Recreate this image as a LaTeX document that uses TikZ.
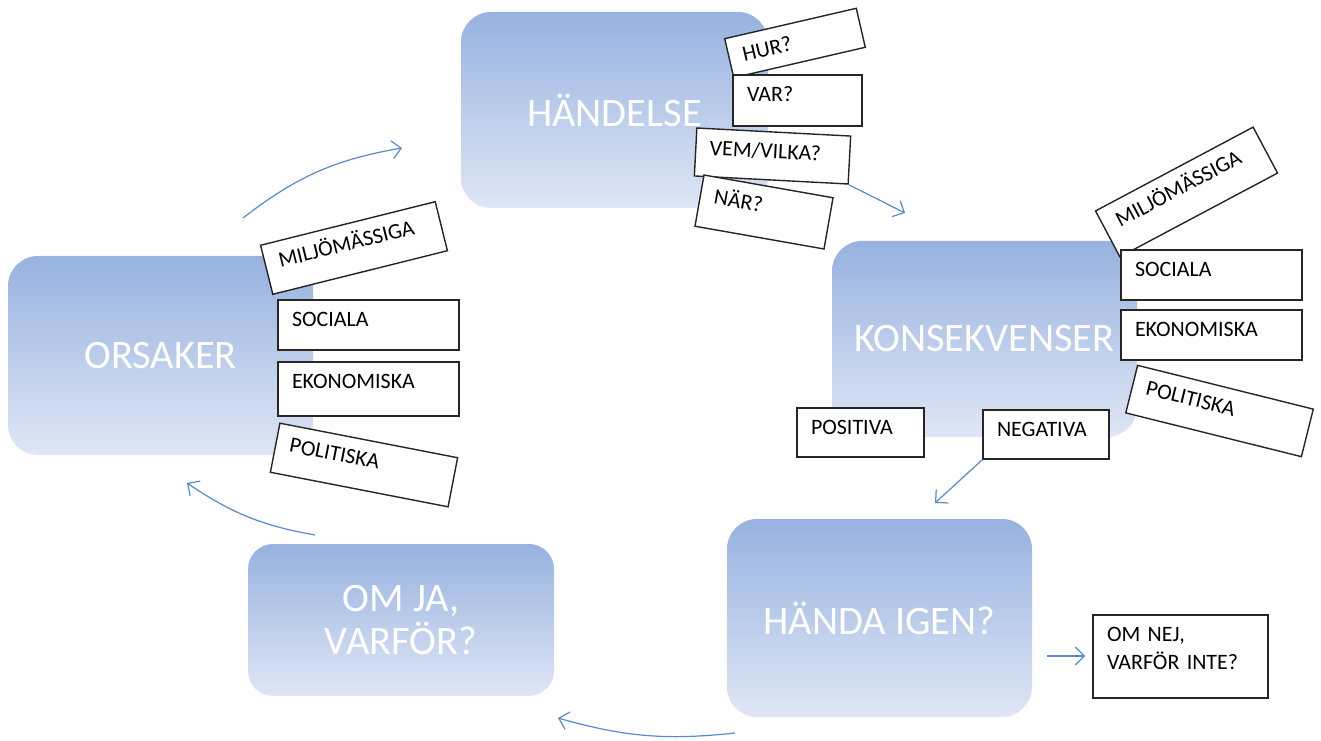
\documentclass[tikz,border=0pt]{standalone}
\usepackage{fontspec}
\setmainfont{Carlito}
\usetikzlibrary{arrows.meta}
\definecolor{boxtop}{RGB}{151,178,224}
\definecolor{boxbot}{RGB}{223,230,245}
\definecolor{cycblue}{RGB}{90,140,205}
\tikzset{
  bigbox/.style={rounded corners=0.6cm, top color=boxtop, bottom color=boxbot, text=white,
    font=\fontsize{23}{24}\selectfont, align=center, minimum width=6.1cm, minimum height=3.96cm},
  tag/.style 2 args={draw=black!85, line width=0.8pt, fill=white, text=black,
    font=\fontsize{12.5}{16}\selectfont, inner xsep=0.28cm, inner ysep=0pt, align=left,
    text width={#1-0.56cm}, text height=0.53cm, text depth={#2-0.53cm}},
  cyc/.style={draw=cycblue, line width=0.7pt, -{Straight Barb[length=1.8mm,width=3.6mm]}}
}

\begin{document}
\begin{tikzpicture}
  %%%%% START %%%%%
  \useasboundingbox (0,0) rectangle (26.42,14.8);

  % big boxes
  \node[bigbox, minimum width=6.14cm, minimum height=3.92cm] (handelse) at (12.29,12.6) {HÄNDELSE};
  \node[bigbox, minimum height=3.98cm] (orsaker) at (3.21,7.69) {ORSAKER};
  \node[bigbox, minimum height=3.92cm] (konsekv) at (19.69,8.02) {KONSEKVENSER};
  \node[bigbox] (handa) at (17.59,2.44) {HÄNDA IGEN?};
  \node[bigbox, minimum width=6.12cm, minimum height=3.04cm, rounded corners=0.5cm] (omja) at (8.02,2.40) {OM JA,\\VARFÖR?};

  % orsaker
  \node[tag={3.60cm}{1.01cm}, rotate=14] (miljo1) at (7.08,9.84) {MILJÖMÄSSIGA};
  \node[tag={3.62cm}{1.00cm}] (soc1) at (7.37,8.30) {SOCIALA};
  \node[tag={3.62cm}{1.08cm}] (eko1) at (7.37,7.02) {EKONOMISKA};
  \node[tag={3.62cm}{1.00cm}, rotate=-11] (pol1) at (7.28,5.50) {POLITISKA};

  % handelse
  \node[tag={2.70cm}{0.80cm}, rotate=13] (hur) at (15.90,13.94) {HUR?};
  \node[tag={2.58cm}{1.02cm}] (var) at (15.95,12.79) {VAR?};
  \node[tag={3.08cm}{0.96cm}, rotate=-3] (vem) at (15.45,11.68) {VEM/VILKA?};
  \node[tag={2.62cm}{1.04cm}, rotate=-10] (nar) at (15.28,10.56) {NÄR?};

  % konsekvenser
  \node[tag={3.57cm}{1.04cm}, rotate=28] (miljo2) at (23.73,10.96) {MILJÖMÄSSIGA};
  \node[tag={3.62cm}{1.00cm}] (soc2) at (24.23,9.30) {SOCIALA};
  \node[tag={3.62cm}{1.00cm}] (eko2) at (24.23,8.10) {EKONOMISKA};
  \node[tag={3.62cm}{0.98cm}, rotate=-14] (pol2) at (24.39,6.58) {POLITISKA};
  \node[tag={2.54cm}{0.98cm}] (pos) at (17.21,6.15) {POSITIVA};
  \node[tag={2.52cm}{0.98cm}] (neg) at (20.92,6.11) {NEGATIVA};

  % handa igen
  \node[tag={3.50cm}{1.66cm}] (omnej) at (23.61,1.67) {OM NEJ,\\VARFÖR INTE?};

  % arrows
  \coordinate (up1) at (4.86,10.44);
  \coordinate (up2) at (8.04,11.84);
  \coordinate (konin) at (18.10,10.54);
  \coordinate (handain) at (18.70,4.74);
  \coordinate (nejout) at (20.94,1.68);
  \coordinate (nejin) at (21.70,1.68);
  \coordinate (low1) at (14.70,0.14);
  \coordinate (low2) at (11.16,0.44);
  \coordinate (left1) at (6.30,4.10);
  \coordinate (left2) at (3.74,5.14);

  \draw[cyc] (up1) to[bend left=14] (up2);
  \draw[cyc] (vem.south east) -- (konin);
  \draw[cyc] (neg.south west) -- (handain);
  \draw[cyc] (nejout) -- (nejin);
  \draw[cyc] (low1) to[bend left=11] (low2);
  \draw[cyc] (left1) to[bend left=12] (left2);

  %%%%% END %%%%%
\end{tikzpicture}
\end{document}
